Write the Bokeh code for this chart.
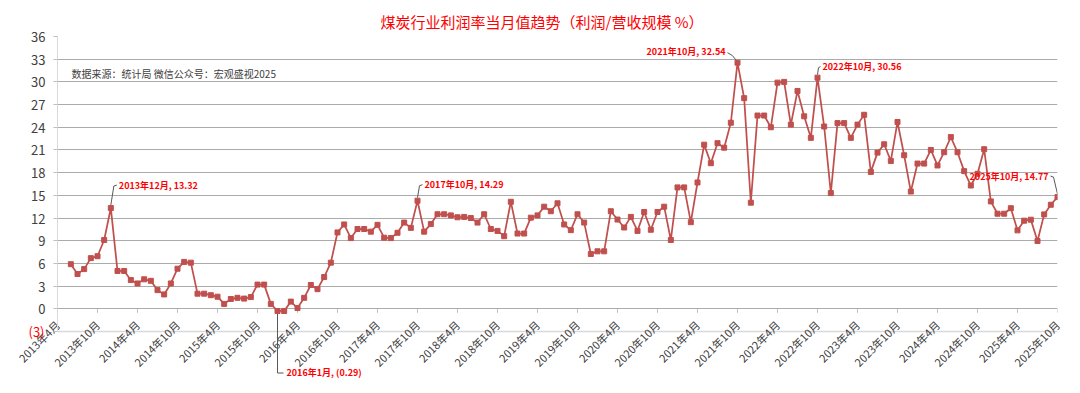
import pandas as pd
from bokeh.plotting import figure
from bokeh.models import (Range1d, FixedTicker, Label, Arrow, Grid, ColumnDataSource,
                          LinearAxis)
from bokeh.embed import file_html
from bokeh.resources import INLINE

# ---------------- data ----------------
title_text = "煤炭行业利润率当月值趋势（利润/营收规模 %）"
source_text = "数据来源：统计局  微信公众号：宏观盛视2025"
axis_start = "2013-04"
axis_end = "2025-10"
first_month = "2013-06"
margin_values = [
    5.9, 4.6, 5.25, 6.7, 6.95, 9.1, 13.32,                                   # 2013-06..12
    5.0, 5.0, 3.8, 3.35, 3.9, 3.7, 2.47, 1.9, 3.35, 5.3, 6.2, 6.1,           # 2014
    2.0, 2.0, 1.8, 1.6, 0.65, 1.3, 1.45, 1.35, 1.55, 3.2, 3.2, 0.65,          # 2015
    -0.29, -0.29, 0.95, 0.1, 1.45, 3.15, 2.6, 4.2, 6.1, 10.1, 11.15, 9.35,    # 2016
    10.55, 10.55, 10.2, 11.1, 9.4, 9.35, 10.05, 11.4, 10.7, 14.29, 10.2, 11.2,  # 2017
    12.5, 12.5, 12.35, 12.1, 12.15, 12.0, 11.4, 12.5, 10.55, 10.3, 9.6, 14.15,  # 2018
    9.95, 9.95, 12.05, 12.35, 13.5, 12.9, 13.95, 11.15, 10.4, 12.5, 11.4, 7.25, # 2019
    7.6, 7.6, 12.9, 11.8, 10.75, 12.15, 10.3, 12.8, 10.45, 12.8, 13.5, 9.1,     # 2020
    16.05, 16.05, 11.45, 16.7, 21.7, 19.25, 21.9, 21.3, 24.6, 32.54, 27.85, 14.03,  # 2021
    25.55, 25.55, 24.0, 29.9, 30.0, 24.35, 28.8, 25.45, 22.6, 30.56, 24.1, 15.3,    # 2022
    24.55, 24.55, 22.6, 24.35, 25.65, 18.1, 20.65, 21.75, 19.55, 24.7, 20.3, 15.5,  # 2023
    19.2, 19.2, 21.0, 18.95, 20.7, 22.7, 20.7, 18.2, 16.3, 17.85, 21.1, 14.2,       # 2024
    12.57, 12.57, 13.3, 10.37, 11.65, 11.78, 8.96, 12.48, 13.76, 14.77,             # 2025-01..10
]
y_ticks = list(range(-3, 37, 3))
callout_months = ["2013-12", "2016-01", "2017-10", "2021-10", "2022-10", "2025-10"]

# ---------------- derived ----------------
start_p = pd.Period(axis_start, freq="M")
end_p = pd.Period(axis_end, freq="M")
months = pd.period_range(first_month, periods=len(margin_values), freq="M")
xs = [(m - start_p).n for m in months]
n_span = (end_p - start_p).n
x_ticks = list(range(0, n_span + 1, 6))
x_tick_labels = {t: f"{(start_p + t).year}年{(start_p + t).month}月" for t in x_ticks}

def fmt(v):
    return f"({abs(v):.2f})" if v < 0 else f"{v:.2f}"

FONT = "Noto Sans CJK SC"
LINE_COLOR = "#C0504D"
RED = "#FF0000"
TXT = "#404040"

# ---------------- layout ----------------
FRAME_W = 1000
PX_Y = 7.564                      # pixels per y unit
EXTRA_BELOW = 51.5                # room under the (3) line for the low call-out
y_lo, y_hi = y_ticks[0], y_ticks[-1]
FRAME_H = int(round((y_hi - y_lo) * PX_Y + EXTRA_BELOW))
y_start = y_hi - FRAME_H / PX_Y
px_x = FRAME_W / n_span
px_y = PX_Y

p = figure(frame_width=FRAME_W, frame_height=FRAME_H,
           x_range=Range1d(0, n_span), y_range=Range1d(y_start, y_hi),
           output_backend="svg", toolbar_location=None,
           min_border_left=57, min_border_right=15, min_border_top=36, min_border_bottom=4)
p.outline_line_color = None
p.background_fill_color = "white"

# title
p.title.text = title_text
p.title.text_font = FONT
p.title.text_font_size = "15px"
p.title.text_font_style = "normal"
p.title.text_color = RED
p.title.align = "left"
p.title.offset = 323
p.title.standoff = 9

# x axis (labels pulled up just under the (3) line)
p.xaxis.ticker = FixedTicker(ticks=x_ticks)
p.xaxis.major_label_overrides = x_tick_labels
p.xaxis.major_label_orientation = 0.785398
p.xaxis.major_tick_line_color = None
p.xaxis.minor_tick_line_color = None
p.xaxis.axis_line_color = None
p.xaxis.major_label_text_font = FONT
p.xaxis.major_label_text_font_size = "11px"
p.xaxis.major_label_text_color = TXT
p.xaxis.major_label_standoff = -int(round(EXTRA_BELOW + 14))

# y axis
p.yaxis.ticker = FixedTicker(ticks=y_ticks)
p.yaxis.bounds = (y_lo, y_hi)
p.yaxis.major_label_overrides = {y_lo: " "}
p.yaxis.axis_line_color = "#D9D9D9"
p.yaxis.major_tick_line_color = "#BFBFBF"
p.yaxis.major_tick_out = 4
p.yaxis.major_tick_in = 0
p.yaxis.minor_tick_line_color = None
p.yaxis.major_label_text_font = FONT
p.yaxis.major_label_text_font_size = "13px"
p.yaxis.major_label_text_color = TXT
p.yaxis.major_label_standoff = 8

# second left axis carrying only the red "(3)"
neg_axis = LinearAxis(ticker=FixedTicker(ticks=[y_lo]),
                      major_label_overrides={y_lo: f"({abs(y_lo)})"},
                      axis_line_color=None, major_tick_line_color=None,
                      minor_tick_line_color=None,
                      major_label_text_color=RED, major_label_text_font=FONT,
                      major_label_text_font_size="13px", major_label_standoff=-22)
p.add_layout(neg_axis, "left")

# grids
p.xgrid.grid_line_color = None
p.ygrid.ticker = FixedTicker(ticks=y_ticks[1:-1])
p.ygrid.grid_line_color = "#ABABAB"
p.ygrid.grid_line_width = 1
edge_grid = Grid(dimension=1, ticker=FixedTicker(ticks=[y_lo, y_hi]),
                 grid_line_color="#D9D9D9", grid_line_width=1.5)
p.add_layout(edge_grid)

# tick marks on the zero line
tick_len = 4 / px_y
p.segment(x0=x_ticks, x1=x_ticks, y0=[0] * len(x_ticks), y1=[-tick_len] * len(x_ticks),
          line_color="#BFBFBF", line_width=1)

# series
src = ColumnDataSource(dict(x=xs, y=margin_values))
p.line("x", "y", source=src, line_color=LINE_COLOR, line_width=1.75)
p.scatter("x", "y", source=src, marker="square", size=5,
          fill_color=LINE_COLOR, line_color=LINE_COLOR)

# callouts: leader path (pixel offsets, y down) and text offset / alignment
callout_layout = {
    "2013-12": ([(0, -3), (3, -22), (6, -23)], (8, -23), "left"),
    "2016-01": ([(0, 3), (0, 62), (6, 62)], (9, 62), "left"),
    "2017-10": ([(0, -3), (2, -15), (5, -16)], (7, -16), "left"),
    "2021-10": ([(-1, -2), (-5, -7), (-10, -10)], (-12, -11), "right"),
    "2022-10": ([(0, -3), (1, -10), (3, -11)], (5, -11), "left"),
    "2025-10": ([(0, -3), (-4, -20), (-7, -21)], (-9, -21), "right"),
}
month_str = [str(m) for m in months]
for cm in callout_months:
    i = month_str.index(cm)
    xv, yv = xs[i], margin_values[i]
    path, (tx, ty), align = callout_layout[cm]
    pts = [(xv + dx / px_x, yv - dy / px_y) for dx, dy in path]
    for (a, b), (c, d) in zip(pts[:-1], pts[1:]):
        p.add_layout(Arrow(end=None, x_start=a, y_start=b, x_end=c, y_end=d,
                           line_color="#595959", line_width=1))
    per = months[i]
    p.add_layout(Label(x=xv, y=yv, x_offset=tx, y_offset=-ty,
                       text=f"{per.year}年{per.month}月, {fmt(yv)}",
                       text_align=align, text_baseline="middle",
                       text_color=RED, text_font=FONT, text_font_style="bold",
                       text_font_size="9px"))

# source note
p.add_layout(Label(x=14 / px_x, y=y_hi - 37 / px_y, text=source_text,
                   text_align="left", text_baseline="middle", text_color="#404040",
                   text_font=FONT, text_font_size="10px"))

open("out.html", "w").write(file_html(p, INLINE))
